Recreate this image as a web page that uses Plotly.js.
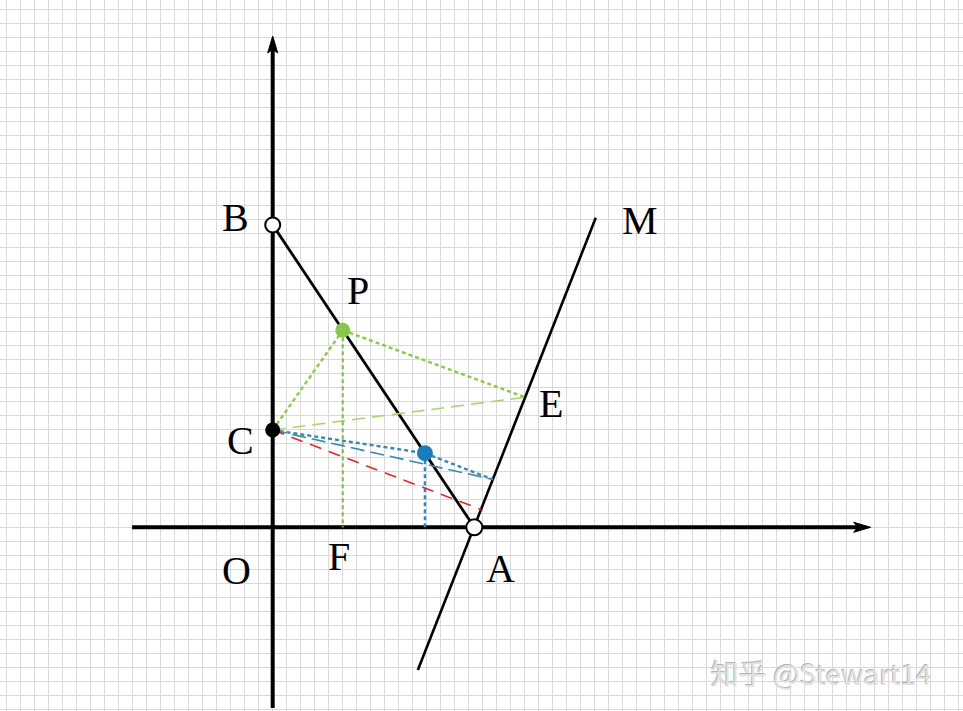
<!DOCTYPE html>
<html>
<head>
<meta charset="utf-8">
<script src="https://cdn.plot.ly/plotly-3.0.1.min.js"></script>
<style>
  html, body { margin: 0; padding: 0; background: #fff; }
  #chart { width: 963px; height: 711px; }
</style>
</head>
<body>
<div id="chart"></div>
<script>
// points of the figure (one unit = OA / 4)
const ptA = [4, 0];
const ptB = [0, 6];
const ptC = [0, 1.93];
const ptP = [1.39, 3.91];
const ptF = [1.39, 0];
const ptE = [5.01, 2.58];
const ptQ = [3.02, 1.47];      // blue point on AB
const ptQfoot = [3.02, 0];
const ptG = [4.37, 0.95];      // blue end on line AM
const ptH = [4.14, 0.35];      // red end on line AM
const lineM = [[2.88, -2.83], [6.41, 6.14]];

// axis extents
const xAxisSpan = [-2.79, 11.865];
const yAxisSpan = [-3.585, 9.748];

// labels
const labelText = ['B', 'P', 'M', 'E', 'C', 'O', 'F', 'A'];
const labelX = [-0.748, 1.692, 7.288, 5.522, -0.639, -0.718, 1.315, 4.526];
const labelY = [6.137, 4.669, 6.058, 2.446, 1.702, -0.867, -0.609, -0.847];

const watermark = '知乎 @Stewart14';

// page mapping: px per unit and origin pixel
const u = 50.4, ox = 272.7, oy = 527.3, W = 963, H = 711;

const seg = (p, q, color, width, dash) => ({
    x: [p[0], q[0]], y: [p[1], q[1]],
    mode: 'lines', type: 'scatter',
    line: { color: color, width: width, dash: dash || 'solid' },
    hoverinfo: 'skip'
});

const dot = (p, fill, edge, size) => ({
    x: [p[0]], y: [p[1]],
    mode: 'markers', type: 'scatter',
    marker: { color: fill, size: size, line: { color: edge, width: 2 } },
    hoverinfo: 'skip'
});

// stealth-like arrow head from tip, direction (dx,dy)
const head = (tip, dx, dy) => {
    const len = 17 / u, half = 5 / u, notch = 4 / u;
    const bx = tip[0] - dx * len, by = tip[1] - dy * len;
    const nx = -dy, ny = dx;
    return {
        x: [tip[0], bx + nx * half, tip[0] - dx * (len - notch), bx - nx * half, tip[0]],
        y: [tip[1], by + ny * half, tip[1] - dy * (len - notch), by - ny * half, tip[1]],
        mode: 'lines', type: 'scatter', fill: 'toself',
        fillcolor: '#000', line: { color: '#000', width: 1 },
        hoverinfo: 'skip'
    };
};

const green = '#8cc84b', greenLight = '#a8d676', teal = '#3d86ad', red = '#e0282a';

const data = [
    // axes
    seg([xAxisSpan[0], 0], [xAxisSpan[1] - 10 / u, 0], '#000', 4),
    seg([0, yAxisSpan[0]], [0, yAxisSpan[1] - 10 / u], '#000', 4),
    head([xAxisSpan[1], 0], 1, 0),
    head([0, yAxisSpan[1]], 0, 1),
    // main lines
    seg(ptB, ptA, '#000', 2.8),
    seg(lineM[0], lineM[1], '#000', 2.6),
    // green construction
    seg(ptC, ptE, greenLight, 1.6, '13px,7px'),
    seg(ptP, ptF, green, 2.4, '4px,3px'),
    seg(ptC, ptP, green, 2.4, '4px,3px'),
    seg(ptP, ptE, green, 2.4, '4px,3px'),
    // blue construction
    seg(ptC, ptG, teal, 1.6, '14px,6px'),
    seg(ptC, ptQ, teal, 2.4, '4px,3px'),
    seg(ptQ, ptG, teal, 2.4, '4px,3px'),
    seg(ptQ, ptQfoot, teal, 2.4, '4px,3px'),
    // red
    seg(ptC, ptH, red, 1.6, '12px,8px'),
    // points
    dot(ptB, '#fff', '#000', 15),
    dot(ptA, '#fff', '#000', 16),
    dot(ptC, '#000', '#000', 13),
    dot(ptP, '#86c84e', '#86c84e', 13),
    dot(ptQ, '#1a7bc0', '#1a7bc0', 14)
];

const annotations = labelText.map((t, i) => ({
    x: labelX[i], y: labelY[i], text: t, showarrow: false,
    xanchor: 'center', yanchor: 'middle', yshift: 1,
    font: { family: 'Liberation Serif, Times New Roman, serif', size: 40, color: '#000' }
}));

// watermark, two layers for the embossed look
annotations.push({
    xref: 'paper', yref: 'paper', x: 821 / W, y: 1 - 673 / H,
    xshift: -1, yshift: 1,
    text: watermark, showarrow: false, xanchor: 'center', yanchor: 'middle',
    font: { family: 'Noto Sans CJK SC, sans-serif', size: 28, color: '#b4b4b4' }
});
annotations.push({
    xref: 'paper', yref: 'paper', x: 821 / W, y: 1 - 673 / H,
    text: watermark, showarrow: false, xanchor: 'center', yanchor: 'middle',
    font: { family: 'Noto Sans CJK SC, sans-serif', size: 28, color: '#e2e2e2' }
});

const grid = {
    showgrid: true, gridcolor: '#d9d9d9', gridwidth: 1,
    tick0: 0, dtick: 14 / u,
    zeroline: false, showline: false, showticklabels: false, ticks: '',
    fixedrange: true
};

const layout = {
    width: W, height: H,
    margin: { l: 0, r: 0, t: 0, b: 0 },
    paper_bgcolor: '#fff', plot_bgcolor: '#fff',
    showlegend: false, hovermode: false,
    xaxis: Object.assign({ range: [-ox / u, (W - ox) / u] }, grid),
    yaxis: Object.assign({ range: [-(H - oy) / u, oy / u] }, grid),
    annotations: annotations
};

Plotly.newPlot('chart', data, layout, { displayModeBar: false, staticPlot: true });
</script>
</body>
</html>
